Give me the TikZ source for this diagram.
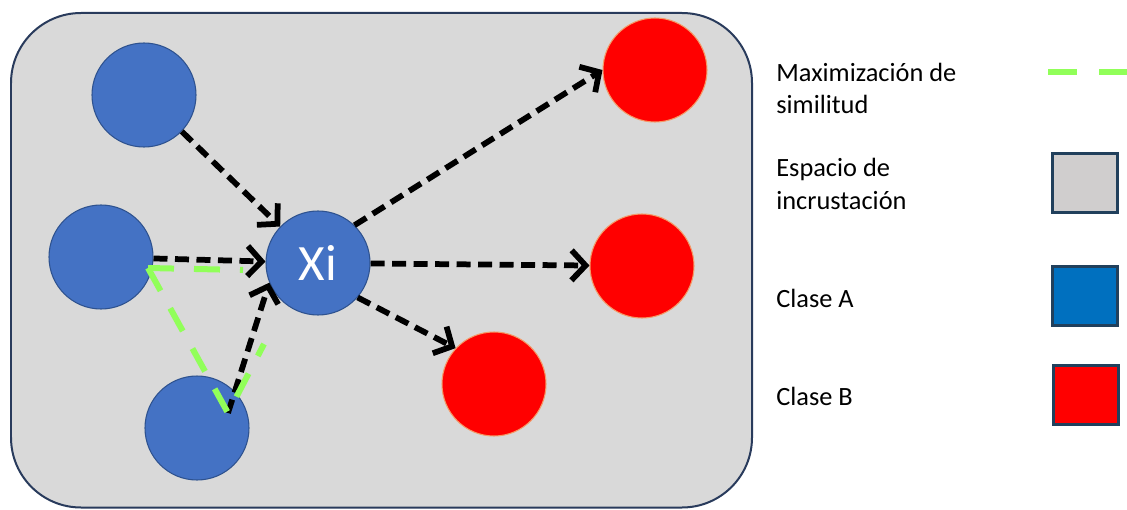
\documentclass[tikz,border=0pt]{standalone}
\usepackage{fontspec}
\setmainfont{Carlito}
\usepackage{tikz}
\usetikzlibrary{arrows.meta}

\begin{document}
\begin{tikzpicture}[
	clsa/.style={circle,minimum size=2.08cm,inner sep=0pt,line width=0.6pt,draw=cda,fill=cfa},
	clsb/.style={circle,minimum size=2.08cm,inner sep=0pt,line width=0.6pt,draw=cdb,fill=cfb},
	sim/.style={line width=0.115cm,dash pattern=on 0.28cm off 0.15cm,-{Straight Barb[length=2.8mm,width=6mm]}},
	simline/.style={draw=csim,line width=0.12cm,dash pattern=on 0.52cm off 0.4cm},
	key/.style={line width=0.06cm,draw=clbd,minimum width=1.3cm,minimum height=1.18cm,inner sep=0pt},
	lgtext/.style={anchor=base west,align=left,inner sep=0pt,font=\fontsize{15}{18.6}\selectfont},
	]
			\definecolor{cbg}{rgb}{0.851,0.851,0.851}
			\definecolor{cbd}{rgb}{0.16,0.23,0.36}
			\definecolor{cfa}{rgb}{0.267,0.447,0.769}
			\definecolor{cda}{rgb}{0.18,0.32,0.56}
			\definecolor{cfb}{rgb}{1.0,0.0,0.0}
			\definecolor{cdb}{rgb}{0.96,0.6,0.4}
			\definecolor{csim}{rgb}{0.57,1.0,0.35}
			\definecolor{clbg}{rgb}{0.816,0.808,0.808}
			\definecolor{cla}{rgb}{0.0,0.44,0.75}
			\definecolor{clbd}{rgb}{0.13,0.25,0.36}
			%
			\useasboundingbox (0,0) rectangle (22.54,10.18);
			\draw[fill=cbg,draw=cbd,line width=0.04cm,rounded corners=1.4cm] (0.22,0.03) rectangle (15.04,9.92);
			%
			\node[clsa] (a1) at (2.88,8.28) {};
			\node[clsa] (a2) at (2.02,5.04) {};
			\node[clsa] (a3) at (3.94,1.62) {};
			\node[clsa,text=white,font=\fontsize{29}{30}\selectfont] (xi) at (6.36,4.92) {Xi};
			\node[clsb] (b1) at (13.10,8.78) {};
			\node[clsb] (b2) at (12.84,4.86) {};
			\node[clsb] (b3) at (9.88,2.50) {};
			%
			\coordinate (v) at (4.56,1.92);
			\coordinate (g1) at (2.96,4.82);
			\coordinate (g2) at (4.86,4.78);
			\coordinate (g3) at (5.28,3.30);
			%
			\draw[sim] (a1) -- (xi);
			\draw[sim] (a2) -- (xi);
			\draw[sim] (v) -- (xi.202);
			\draw[sim] (xi.46) -- (b1.west);
			\draw[sim] (xi) -- (b2);
			\draw[sim] (xi.-41) -- (b3.137);
			%
			\draw[simline] (g1) -- (g2);
			\draw[simline] (g1) -- (v) -- (g3);
			%
			\node[lgtext] (tsim) at (15.52,7.90) {Maximización de\\similitud};
			\node[lgtext] (tesp) at (15.52,6.00) {Espacio de\\incrustación};
			\node[lgtext] (ta) at (15.52,4.04) {Clase A};
			\node[lgtext] (tb) at (15.52,2.08) {Clase B};
			%
			\coordinate (k0) at (20.96,8.74);
			\coordinate (k1) at (22.56,8.74);
			\draw[draw=csim,line width=0.13cm,dash pattern=on 0.58cm off 0.44cm] (k0) -- (k1);
			\node[key,fill=clbg] (kesp) at (21.69,6.53) {};
			\node[key,fill=cla] (ka) at (21.69,4.27) {};
			\node[key,fill=cfb] (kb) at (21.71,2.29) {};
			%
		\end{tikzpicture}
\end{document}
